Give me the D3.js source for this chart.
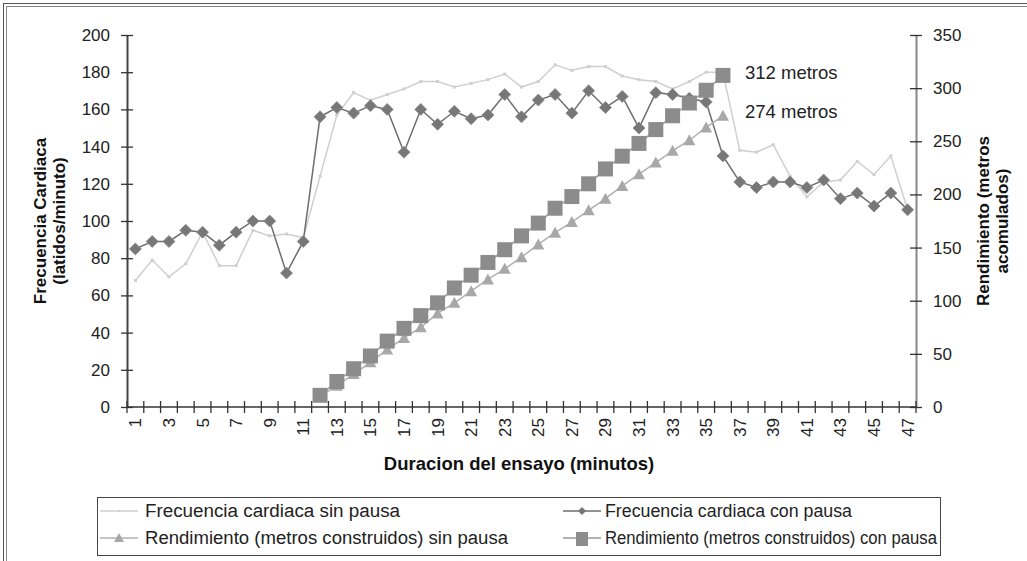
<!DOCTYPE html>
<html>
<head>
<meta charset="utf-8">
<script src="https://cdn.jsdelivr.net/npm/d3@7"></script>
<style>
  body { margin: 0; background: #fff; }
  svg { display: block; font-family: "Liberation Sans", Arial, sans-serif; }
</style>
</head>
<body>
<svg width="1027" height="561"></svg>
<script>
var minutos = d3.range(1, 48);

var fcSinPausa = [68, 79, 70, 77, 94, 76, 76, 95, 92, 93, 91, 124, 157, 169, 165, 168, 171, 175, 175, 172, 174, 176, 179, 172, 175, 184, 181, 183, 183, 178, 176, 175, 171, 175, 180, 180, 138, 137, 141, 124, 113, 121, 122, 132, 125, 135, 106];

var fcConPausa = [85, 89, 89, 95, 94, 87, 94, 100, 100, 72, 89, 156, 161, 158, 162, 160, 137, 160, 152, 159, 155, 157, 168, 156, 165, 168, 158, 170, 161, 167, 150, 169, 168, 166, 164, 135, 121, 118, 121, 121, 118, 122, 112, 115, 108, 115, 106];

var rendSinPausa = [null, null, null, null, null, null, null, null, null, null, null, 10, 20, 31, 42, 54, 65, 75, 88, 98, 109, 120, 130, 141, 153, 164, 174, 185, 196, 208, 219, 230, 241, 251, 263, 274, null, null, null, null, null, null, null, null, null, null, null];

var rendConPausa = [null, null, null, null, null, null, null, null, null, null, null, 11, 24, 36, 48, 62, 74, 86, 98, 112, 124, 136, 148, 161, 173, 187, 198, 210, 224, 236, 248, 261, 274, 286, 298, 312, null, null, null, null, null, null, null, null, null, null, null];

var yTicksIzq = [0, 20, 40, 60, 80, 100, 120, 140, 160, 180, 200];
var yTicksDer = [0, 50, 100, 150, 200, 250, 300, 350];

var svg = d3.select("svg");

// marco doble del grafico
svg.append("rect").attr("x", 3.5).attr("y", 3.5).attr("width", 1100).attr("height", 600)
    .attr("fill", "none").attr("stroke", "#555");
svg.append("rect").attr("x", 6.5).attr("y", 6.5).attr("width", 1100).attr("height", 600)
    .attr("fill", "none").attr("stroke", "#888");

var x = d3.scaleBand()
    .domain(minutos)
    .range([127, 916])
    .padding(0);

var yL = d3.scaleLinear().domain([0, 200]).range([407, 35]);
var yR = d3.scaleLinear().domain([0, 350]).range([407, 35]);

function cx(d, i) { return x(minutos[i]) + x.bandwidth() / 2; }

// eje izquierdo
var gL = svg.append("g").attr("transform", "translate(127,0)");
gL.call(d3.axisLeft(yL).tickValues(yTicksIzq).tickSizeInner(6).tickSizeOuter(0).tickPadding(11));
gL.selectAll(".tick line").attr("x2", 6).attr("x1", -6).attr("stroke", "#333").attr("stroke-width", 1.3);
gL.select(".domain").attr("stroke", "#444").attr("stroke-width", 2);
gL.selectAll("text").attr("font-size", 17).attr("fill", "#222").attr("font-family", "Liberation Sans, Arial");

// eje derecho
var gR = svg.append("g").attr("transform", "translate(916,0)");
gR.call(d3.axisRight(yR).tickValues(yTicksDer).tickSizeInner(6).tickSizeOuter(0).tickPadding(11));
gR.selectAll(".tick line").attr("x2", 6).attr("x1", -6).attr("stroke", "#333").attr("stroke-width", 1.3);
gR.select(".domain").attr("stroke", "#888").attr("stroke-width", 2);
gR.selectAll("text").attr("font-size", 17).attr("fill", "#222").attr("font-family", "Liberation Sans, Arial");

// eje x
var gX = svg.append("g").attr("transform", "translate(0,407)");
gX.append("line").attr("x1", 127).attr("x2", 916).attr("stroke", "#333").attr("stroke-width", 1.3);
gX.selectAll("line.tk")
    .data(minutos.concat([48]))
    .enter().append("line")
    .attr("class", "tk")
    .attr("x1", function (d) { return d <= 47 ? x(d) : x(47) + x.bandwidth(); })
    .attr("x2", function (d) { return d <= 47 ? x(d) : x(47) + x.bandwidth(); })
    .attr("y1", -6).attr("y2", 6)
    .attr("stroke", "#333").attr("stroke-width", 1.3);
gX.selectAll("text")
    .data(minutos.filter(function (d) { return d % 2 == 1; }))
    .enter().append("text")
    .attr("transform", function (d) {
        return "translate(" + (x(d) + x.bandwidth() / 2 + 6) + ",11) rotate(-90)";
    })
    .attr("text-anchor", "end")
    .attr("font-size", 17)
    .attr("fill", "#222")
    .text(function (d) { return d; });

// titulos de ejes
svg.append("text")
    .attr("x", 519).attr("y", 470)
    .attr("text-anchor", "middle")
    .attr("font-size", 18.5).attr("font-weight", "bold").attr("fill", "#111")
    .text("Duracion del ensayo (minutos)");

var tL = svg.append("text")
    .attr("transform", "translate(46,221) rotate(-90)")
    .attr("text-anchor", "middle")
    .attr("font-size", 17).attr("font-weight", "bold").attr("fill", "#111");
tL.append("tspan").attr("x", 0).attr("dy", 0).text("Frecuencia Cardiaca");
tL.append("tspan").attr("x", 0).attr("dy", 19).text("(latidos/minuto)");

var tR = svg.append("text")
    .attr("transform", "translate(989,221) rotate(-90)")
    .attr("text-anchor", "middle")
    .attr("font-size", 17).attr("font-weight", "bold").attr("fill", "#111");
tR.append("tspan").attr("x", 0).attr("dy", 0).text("Rendimiento (metros");
tR.append("tspan").attr("x", 0).attr("dy", 19).text("acomulados)");

// series
var lineaL = d3.line()
    .defined(function (d) { return d != null; })
    .x(cx)
    .y(function (d) { return yL(d); });
var lineaR = d3.line()
    .defined(function (d) { return d != null; })
    .x(cx)
    .y(function (d) { return yR(d); });

var plot = svg.append("g");

// frecuencia sin pausa
plot.append("path").datum(fcSinPausa)
    .attr("d", lineaL).attr("fill", "none").attr("stroke", "#cfcfcf").attr("stroke-width", 1.5);
plot.selectAll("rect.fs").data(fcSinPausa).enter().append("rect")
    .attr("class", "fs")
    .attr("x", function (d, i) { return cx(d, i) - 1.5; })
    .attr("y", function (d) { return yL(d) - 1.5; })
    .attr("width", 3).attr("height", 3)
    .attr("fill", "#cfcfcf");

// frecuencia con pausa
plot.append("path").datum(fcConPausa)
    .attr("d", lineaL).attr("fill", "none").attr("stroke", "#6e6e6e").attr("stroke-width", 1.5);
plot.selectAll("path.dia").data(fcConPausa).enter().append("path")
    .attr("class", "dia")
    .attr("transform", function (d, i) { return "translate(" + cx(d, i) + "," + yL(d) + ")"; })
    .attr("d", "M0,-6L6,0L0,6L-6,0Z")
    .attr("fill", "#777").attr("stroke", "#8a8a8a").attr("stroke-width", 0.8);

// rendimiento sin pausa
plot.append("path").datum(rendSinPausa)
    .attr("d", lineaR).attr("fill", "none").attr("stroke", "#b0b0b0").attr("stroke-width", 1.5);
plot.selectAll("path.tri").data(rendSinPausa).enter()
    .filter(function (d) { return d != null; })
    .append("path")
    .attr("class", "tri")
    .attr("transform", function (d) {
        var i = rendSinPausa.indexOf(d);
        return "translate(" + cx(d, i) + "," + yR(d) + ")";
    })
    .attr("d", "M0,-6L6,5L-6,5Z")
    .attr("fill", "#a8a8a8");

// rendimiento con pausa
plot.append("path").datum(rendConPausa)
    .attr("d", lineaR).attr("fill", "none").attr("stroke", "#999").attr("stroke-width", 1.5);
plot.selectAll("rect.sq").data(rendConPausa).enter()
    .filter(function (d) { return d != null; })
    .append("rect")
    .attr("class", "sq")
    .attr("x", function (d) { return cx(d, rendConPausa.indexOf(d)) - 7.5; })
    .attr("y", function (d) { return yR(d) - 7.5; })
    .attr("width", 15).attr("height", 15)
    .attr("fill", "#8c8c8c");

// anotaciones
svg.append("text").attr("x", 745).attr("y", 79).attr("font-size", 18.5).attr("fill", "#222").text("312 metros");
svg.append("text").attr("x", 745).attr("y", 118).attr("font-size", 18.5).attr("fill", "#222").text("274 metros");

// leyenda
var leg = svg.append("g");
leg.append("rect").attr("x", 97.5).attr("y", 497.5).attr("width", 843).attr("height", 58)
    .attr("fill", "#fff").attr("stroke", "#444");

var items = [
    { t: "Frecuencia cardiaca sin pausa", x: 100, y: 511, c: "#cfcfcf", m: "dot", tx: 145, w: 255, f: 18 },
    { t: "Frecuencia cardiaca con pausa", x: 563, y: 511, c: "#6e6e6e", m: "dia", tx: 605, w: 247, f: 17.5 },
    { t: "Rendimiento (metros construidos) sin pausa", x: 100, y: 538, c: "#b0b0b0", m: "tri", tx: 145, w: 363, f: 18 },
    { t: "Rendimiento (metros construidos) con pausa", x: 563, y: 538, c: "#999", m: "sq", tx: 605, w: 332, f: 17.5 }
];
items.forEach(function (it) {
    leg.append("line").attr("x1", it.x).attr("x2", it.x + 38).attr("y1", it.y).attr("y2", it.y)
        .attr("stroke", it.c).attr("stroke-width", 1.5);
    var mx = it.x + 19;
    if (it.m == "dot") {
        leg.append("rect").attr("x", mx - 1).attr("y", it.y - 1).attr("width", 2).attr("height", 2).attr("fill", "#cfcfcf");
    } else if (it.m == "dia") {
        leg.append("path").attr("transform", "translate(" + mx + "," + it.y + ")")
            .attr("d", "M0,-4L4,0L0,4L-4,0Z").attr("fill", "#777");
    } else if (it.m == "tri") {
        leg.append("path").attr("transform", "translate(" + mx + "," + it.y + ")")
            .attr("d", "M0,-5L5,4L-5,4Z").attr("fill", "#a8a8a8");
    } else {
        leg.append("rect").attr("x", mx - 6).attr("y", it.y - 6).attr("width", 12).attr("height", 14).attr("fill", "#8c8c8c");
    }
    leg.append("text").attr("x", it.tx).attr("y", it.y + 6)
        .attr("font-size", it.f).attr("fill", "#222")
        .attr("textLength", it.w).attr("lengthAdjust", "spacingAndGlyphs")
        .text(it.t);
});
</script>
</body>
</html>
